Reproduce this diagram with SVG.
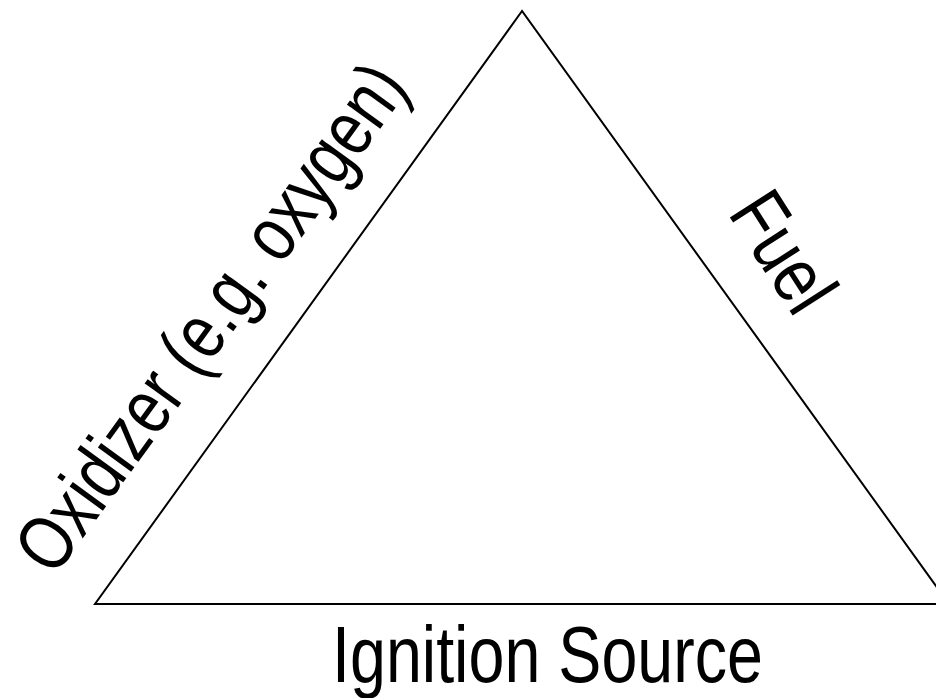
<svg xmlns="http://www.w3.org/2000/svg" width="936" height="698" viewBox="0 0 936 698">
<style>
.lbl{font-family:"Liberation Sans Narrow","Arial Narrow","Liberation Sans",Arial,sans-serif;fill:#000;}
.edge{fill:none;stroke:#000;stroke-width:2;stroke-linejoin:miter;}
</style>
<rect width="936" height="698" fill="#fff"/>
<g id="connectors">
<polygon id="triangle" class="edge" points="522,11 95,604 949,604"/>
</g>
<g id="oxidizer">
<text class="lbl" font-size="78" transform="translate(54,578) rotate(-54)" textLength="606" lengthAdjust="spacingAndGlyphs">Oxidizer (e.g. oxygen)</text>
</g>
<g id="fuel">
<text class="lbl" font-size="78" transform="translate(727,213) rotate(57.4)" textLength="126" lengthAdjust="spacingAndGlyphs">Fuel</text>
</g>
<g id="ignition">
<text class="lbl" font-size="79" x="332" y="682" textLength="431" lengthAdjust="spacingAndGlyphs">Ignition Source</text>
</g>
</svg>
